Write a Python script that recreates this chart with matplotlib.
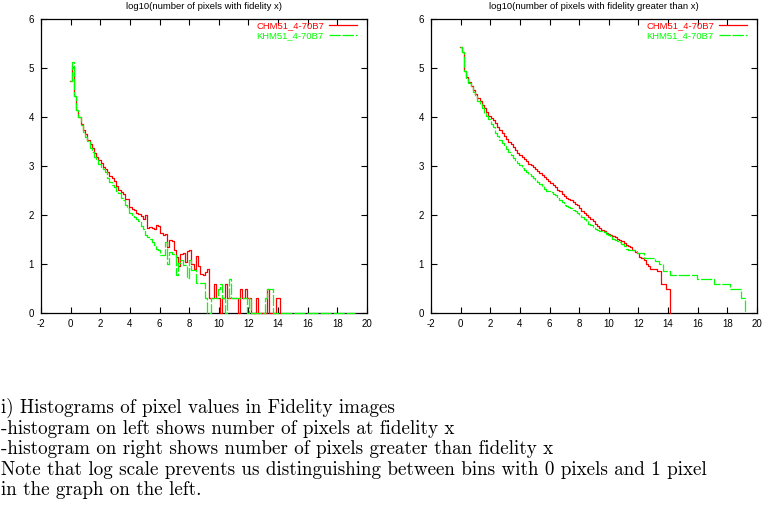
import numpy as np
import matplotlib
matplotlib.use("Agg")
import matplotlib.pyplot as plt

plt.rcParams["axes.unicode_minus"] = False

# fidelity bins, ~0.15 wide, first one centred on 0
bin_edges = np.linspace(-0.07, 19.22, 130)

series_labels = ["CHM51_4-70B7", "KHM51_4-70B7"]
series_colors = ["#ff0000", "#00ff00"]

# log10(number of pixels with fidelity x), one value per bin
left_chm = [4.73, 5.03, 4.43, 4.14, 4.00, 3.86, 3.73, 3.65, 3.54, 3.44,
            3.37, 3.26, 3.19, 3.13, 3.06, 2.98, 2.94, 2.87, 2.80, 2.76,
            2.70, 2.60, 2.52, 2.46, 2.42, 2.33, 2.33, 2.17, 2.13, 2.10,
            2.05, 2.02, 1.98, 1.91, 2.00, 1.73, 1.76, 1.73, 1.71, 1.79,
            1.77, 1.64, 1.59, 1.61, 1.35, 1.50, 1.46, 1.28, 1.15, 0.95,
            1.21, 1.23, 1.05, 1.27, 1.28, 1.00, 0.90, 1.16, 0.95, 0.80,
            0.78, 0.84, 0.90, 0.30, 0.30, 0.60, 0.30, 0.30, 0.00, 0.30,
            0.60, 0.30, 0.30, 0.30, 0.30, 0.30, 0.00, 0.48, 0.30, 0.48,
            0.30, 0.30, 0.00, 0.00, 0.30, 0.00, 0.00, 0.00, 0.00, 0.48,
            0.00, 0.00, 0.00, 0.30, 0.30]
left_khm = [4.73, 5.12, 4.43, 4.14, 4.00, 3.84, 3.70, 3.59, 3.52, 3.37,
            3.29, 3.18, 3.15, 3.05, 2.97, 2.94, 2.87, 2.76, 2.68, 2.61,
            2.58, 2.48, 2.45, 2.35, 2.30, 2.20, 2.15, 2.05, 1.97, 1.95,
            1.92, 1.88, 1.78, 1.72, 1.60, 1.55, 1.52, 1.45, 1.38, 1.30,
            1.28, 1.18, 1.18, 1.45, 1.01, 1.25, 1.20, 1.20, 0.78, 1.03,
            1.08, 0.98, 0.98, 0.71, 1.08, 0.88, 0.88, 0.61, 0.61, 0.61,
            0.61, 0.30, 0.00, 0.00, 0.30, 0.30, 0.30, 0.48, 0.60, 0.30,
            0.00, 0.30, 0.70, 0.30, 0.30, 0.30, 0.30, 0.30, 0.30, 0.30,
            0.00, 0.30, 0.00, 0.00, 0.00, 0.00, 0.00, 0.00, 0.30, 0.48,
            0.48, 0.48] + [0.00] * 37

# log10(number of pixels with fidelity greater than x)
right_chm = [5.42, 5.33, 4.93, 4.81, 4.71, 4.63, 4.55, 4.46, 4.39, 4.32,
             4.25, 4.18, 4.10, 4.02, 3.98, 3.93, 3.87, 3.80, 3.73, 3.67,
             3.61, 3.56, 3.50, 3.44, 3.38, 3.32, 3.27, 3.22, 3.18, 3.14,
             3.10, 3.05, 3.02, 2.98, 2.94, 2.89, 2.85, 2.82, 2.78, 2.74,
             2.70, 2.65, 2.61, 2.57, 2.52, 2.48, 2.43, 2.38, 2.34, 2.32,
             2.30, 2.27, 2.23, 2.20, 2.15, 2.09, 2.05, 2.00, 1.96, 1.91,
             1.87, 1.82, 1.77, 1.73, 1.70, 1.67, 1.64, 1.62, 1.60, 1.58,
             1.55, 1.52, 1.49, 1.46, 1.43, 1.39, 1.37, 1.34, 1.29, 1.25,
             1.23, 1.15, 1.12, 1.08, 1.00, 0.95, 0.90, 0.90, 0.90, 0.85,
             0.85, 0.60, 0.60, 0.48, 0.48]
right_khm = [5.43, 5.33, 4.93, 4.77, 4.70, 4.63, 4.52, 4.43, 4.33, 4.27,
             4.18, 4.09, 4.02, 3.95, 3.85, 3.80, 3.67, 3.61, 3.53, 3.46,
             3.40, 3.34, 3.28, 3.22, 3.16, 3.10, 3.06, 3.02, 2.96, 2.92,
             2.88, 2.83, 2.79, 2.76, 2.71, 2.67, 2.63, 2.59, 2.54, 2.50,
             2.48, 2.46, 2.43, 2.40, 2.35, 2.30, 2.26, 2.21, 2.18, 2.16,
             2.14, 2.11, 2.08, 2.04, 2.00, 1.96, 1.91, 1.87, 1.82, 1.79,
             1.75, 1.72, 1.70, 1.68, 1.67, 1.65, 1.62, 1.60, 1.57, 1.52,
             1.48, 1.46, 1.44, 1.40, 1.36, 1.30, 1.28, 1.28, 1.28, 1.27,
             1.22, 1.22, 1.22, 1.12, 1.12, 1.12, 1.12, 1.12, 1.07, 1.07,
             1.00, 1.00, 0.85, 0.85, 0.85] + [0.78] * 12 + [0.70] * 8 \
            + [0.60] * 7 + [0.48] * 5 + [0.30] * 2

titles = ["log10(number of pixels with fidelity x)",
          "log10(number of pixels with fidelity greater than x)"]

caption = ["i) Histograms of pixel values in Fidelity images",
           "-histogram on left shows number of pixels at fidelity x",
           "-histogram on right shows number of pixels greater than fidelity x",
           "Note that log scale prevents us distinguishing between bins with 0 pixels and 1 pixel",
           "in the graph on the left."]

SANS = "Liberation Sans"
SERIF = "cmr10"
W, H = 762, 511


def histeps(ax, values, color, dashes=None):
    # step outline of the bins, falling back to zero after the last bin
    vals = np.asarray(values)
    edges = bin_edges[:len(vals) + 1]
    x = np.append(edges, edges[-1])
    y = np.append(vals, [vals[-1], 0.0])
    line, = ax.step(x, y, where="post", color=color, lw=0.9, zorder=3,
                    clip_on=False)
    if dashes is not None:
        line.set_dashes(dashes)
    return line


fig = plt.figure(figsize=(W / 100, H / 100), dpi=100)

panels = [(41, left_chm, left_khm, titles[0]),
          (431, right_chm, right_khm, titles[1])]

for x0, chm, khm, title in panels:
    ax = fig.add_axes([x0 / W, 1 - 313 / H, 326 / W, 294 / H])
    l1 = histeps(ax, chm, series_colors[0])
    l2 = histeps(ax, khm, series_colors[1], dashes=(9, 1.5))
    l1.set_label(series_labels[0])
    l2.set_label(series_labels[1])

    ax.set_xlim(-2, 20)
    ax.set_ylim(0, 6)
    ax.set_xticks(np.arange(-2, 21, 2))
    ax.set_yticks(np.arange(0, 7, 1))
    ax.tick_params(direction="in", top=True, right=True, length=4,
                   width=0.8, labelsize=7, pad=4)
    ax.tick_params(axis="y", pad=5)
    for lab in ax.get_xticklabels() + ax.get_yticklabels():
        lab.set_family(SANS)
    for sp in ax.spines.values():
        sp.set_linewidth(0.9)

    ax.set_title(title, fontsize=6.8, family=SANS, pad=7)

    ax.legend(loc="upper right", bbox_to_anchor=(1 - 10 / 326, 1 - 2 / 294),
              frameon=False, markerfirst=False, labelcolor="linecolor",
              handlelength=3.0, handletextpad=0.5, borderpad=0,
              borderaxespad=0, labelspacing=0.12,
              prop={"family": SANS, "size": 6.8})

# caption below the plots, sized so the longest line spans ~708 px
texts = []
y = 413
for line in caption:
    texts.append(fig.text(1 / W, 1 - y / H, line, family=SERIF, fontsize=12,
                          ha="left", va="baseline"))
    y += 20.5
renderer = fig.canvas.get_renderer()
widest = max(t.get_window_extent(renderer).width for t in texts)
for t in texts:
    t.set_fontsize(12 * 707 / widest)

fig.savefig("out.png", dpi=100)
